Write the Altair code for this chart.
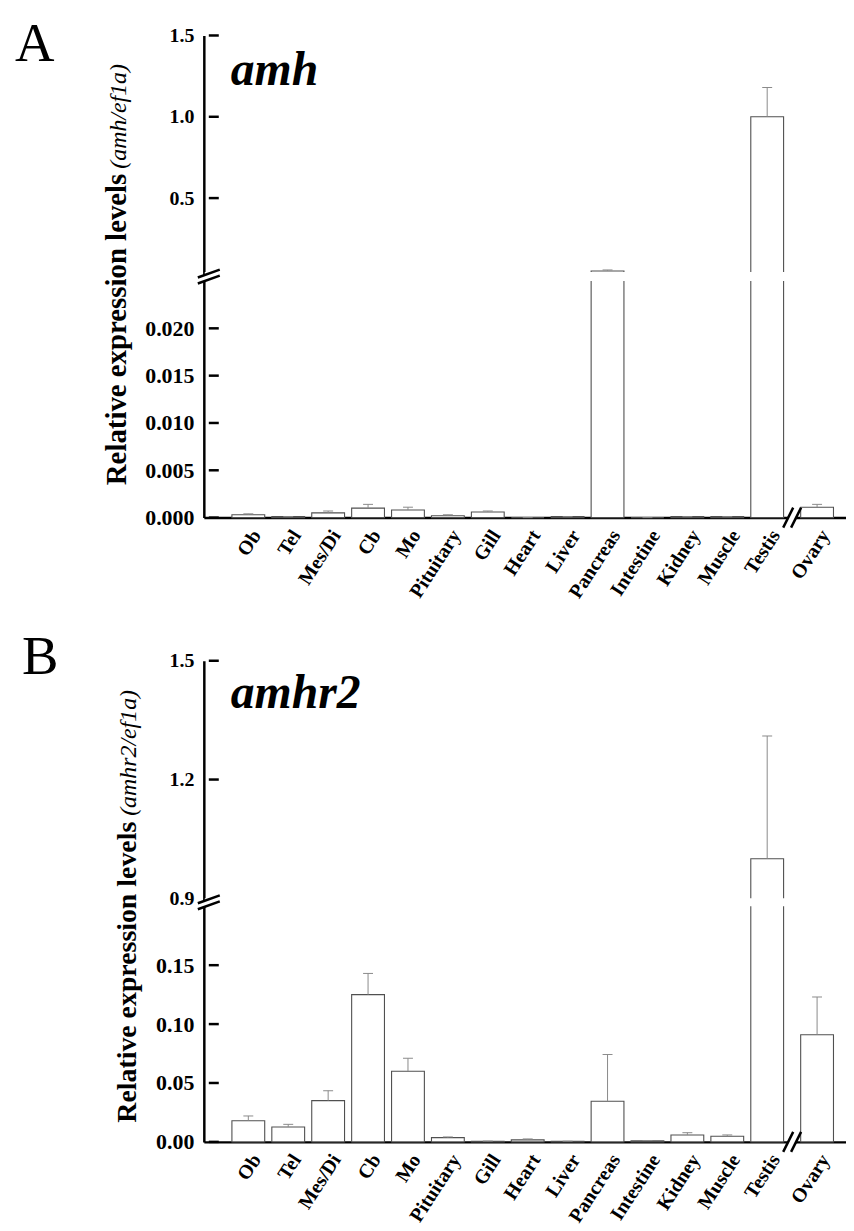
import json
import altair as alt
import pandas as pd

# ---------------- data ----------------
tissues = ["Ob", "Tel", "Mes/Di", "Cb", "Mo", "Pituitary", "Gill", "Heart",
           "Liver", "Pancreas", "Intestine", "Kidney", "Muscle", "Testis", "Ovary"]

amh_mean = [0.0003, 0.0001, 0.0005, 0.0010, 0.0008, 0.0002, 0.0006, 0.0000,
            0.0001, 0.052, 0.0000, 0.0001, 0.0001, 1.00, 0.0011]
amh_err = [0.0001, 0.0000, 0.0002, 0.0004, 0.0003, 0.0001, 0.0001, 0.0000,
           0.0000, 0.006, 0.0000, 0.0000, 0.0000, 0.18, 0.0003]

amhr2_mean = [0.018, 0.0126, 0.035, 0.125, 0.060, 0.0036, 0.0005, 0.0017,
              0.0005, 0.0345, 0.0010, 0.0059, 0.0048, 1.00, 0.091]
amhr2_err = [0.004, 0.0023, 0.0085, 0.018, 0.011, 0.0006, 0.0002, 0.0008,
             0.0001, 0.0397, 0.0002, 0.0019, 0.0011, 0.31, 0.032]

amh_ticks = [0.0, 0.005, 0.010, 0.015, 0.020, 0.5, 1.0, 1.5]
amhr2_ticks = [0.0, 0.05, 0.10, 0.15, 0.9, 1.2, 1.5]

# ---------------- layout helpers ----------------
FONT = "Liberation Serif"
X_MIN, X_MAX = -0.99, 14.85
OVARY_SHIFT = 0.25
positions = [i + (OVARY_SHIFT if t == "Ovary" else 0) for i, t in enumerate(tissues)]
X_BREAK = (positions[-2] + positions[-1]) / 2
TICK_LEN = 0.25
W = 646

YBREAK_LINES = "M-0.92,0.08L0.92,-0.58M-0.92,0.58L0.92,-0.08"
YBREAK_FILL = "M-0.92,0.08L0.92,-0.58L0.92,-0.08L-0.92,0.58Z"
XBREAK_LINES = "M-0.6,0.67L0.07,-0.67M-0.07,0.67L0.6,-0.67"
XBREAK_FILL = "M-0.6,0.67L0.07,-0.67L0.6,-0.67L-0.07,0.67Z"


def build_panel(letter, gene, ratio, means, errs, ydomain, yrange, ticks,
                inner_ticks, lo_fmt, split, cfg):
    h = yrange[0]
    xs = alt.Scale(domain=[X_MIN, X_MAX], nice=False, zero=False)
    ys = alt.Scale(domain=ydomain, range=yrange, nice=False)

    label_expr = json.dumps(tissues) + "[round(datum.value)]"
    x_axis = alt.Axis(values=positions, labelExpr=label_expr, labelAngle=-57,
                      labelAlign="right", labelBaseline="middle", labelOffset=8,
                      labelFont=FONT, labelFontWeight="bold", labelFontSize=20,
                      labelColor="black", ticks=False, tickSize=0,
                      domainColor="black", domainWidth=2.5, grid=False,
                      title=None, labelPadding=14, labelOverlap=False,
                      labelFlush=False)
    y_axis = alt.Axis(values=ticks,
                      labelExpr=f"datum.value > {split} ? format(datum.value, '.1f') : format(datum.value, '{lo_fmt}')",
                      ticks=False, tickSize=0, domainColor="black",
                      domainWidth=2.5, labelFont=FONT, labelFontWeight="bold",
                      labelFontSize={"condition": {"test": f"datum.value > {split}", "value": 20}, "value": 22},
                      labelColor="black", labelPadding=10, title=None,
                      grid=False, labelOverlap=False, labelFlush=False)

    def X(f):
        return alt.X(f, type="quantitative", scale=xs, axis=x_axis)

    def Y(f):
        return alt.Y(f, type="quantitative", scale=ys, axis=y_axis)

    df = pd.DataFrame({"tissue": tissues, "pos": positions, "mean": means,
                       "top": [m + e for m, e in zip(means, errs)]})

    bars = alt.Chart(df).mark_bar(size=33, fill="white", stroke="#505050",
                                  strokeWidth=1.1).encode(x=X("pos"), y=Y("mean"))
    err = alt.Chart(df).mark_rule(color="#8a8a8a", strokeWidth=1).encode(
        x=X("pos"), y=Y("mean"), y2="top")
    cap = alt.Chart(df).mark_tick(orient="horizontal", size=10, thickness=1,
                                  color="#8a8a8a", opacity=1).encode(x=X("pos"), y=Y("top"))

    gap_df = pd.DataFrame({"x0": [X_MIN - 0.1], "x1": [X_MAX],
                           "y0": [ydomain[1]], "y1": [ydomain[2]]})
    gap = alt.Chart(gap_df).mark_rect(fill="white", stroke=None).encode(
        x=X("x0"), x2="x1", y=Y("y0"), y2="y1")

    tick_df = pd.DataFrame({"v": inner_ticks, "x0": X_MIN, "x1": X_MIN + TICK_LEN})
    tk = alt.Chart(tick_df).mark_rule(color="black", strokeWidth=2.5).encode(
        x=X("x0"), x2="x1", y=Y("v"))

    yb_df = pd.DataFrame({"x": [X_MIN], "y": [(ydomain[1] + ydomain[2]) / 2]})
    yb_fill = alt.Chart(yb_df).mark_point(shape=YBREAK_FILL, size=576, filled=True,
                                          fill="white", strokeWidth=0, opacity=1).encode(x=X("x"), y=Y("y"))
    yb_line = alt.Chart(yb_df).mark_point(shape=YBREAK_LINES, size=576, filled=False,
                                          color="black", strokeWidth=2.5, opacity=1).encode(x=X("x"), y=Y("y"))
    xb_df = pd.DataFrame({"x": [X_BREAK], "y": [0.0]})
    xb_fill = alt.Chart(xb_df).mark_point(shape=XBREAK_FILL, size=900, filled=True,
                                          fill="white", strokeWidth=0, opacity=1).encode(x=X("x"), y=Y("y"))
    xb_line = alt.Chart(xb_df).mark_point(shape=XBREAK_LINES, size=900, filled=False,
                                          color="black", strokeWidth=2.5, opacity=1).encode(x=X("x"), y=Y("y"))

    letter_t = alt.Chart(pd.DataFrame({"t": [letter]})).mark_text(
        font=FONT, fontSize=55, align="left", baseline="alphabetic", color="black").encode(
        text="t:N", x=alt.value(cfg["letter_x"]), y=alt.value(cfg["letter_y"]))
    gene_t = alt.Chart(pd.DataFrame({"t": [gene]})).mark_text(
        font=FONT, fontSize=48, fontStyle="italic", fontWeight="bold", align="left",
        baseline="alphabetic", color="black").encode(
        text="t:N", x=alt.value(27), y=alt.value(cfg["gene_y"]))
    title1 = alt.Chart(pd.DataFrame({"t": ["Relative expression levels"]})).mark_text(
        font=FONT, fontSize=cfg["t1_size"], fontWeight="bold", angle=270, align="right",
        baseline="alphabetic", color="black").encode(
        text="t:N", x=alt.value(cfg["title_x"]), y=alt.value(cfg["t1_end"]))
    title2 = alt.Chart(pd.DataFrame({"t": [ratio]})).mark_text(
        font=FONT, fontSize=24, fontStyle="italic", angle=270, align="left",
        baseline="alphabetic", color="black").encode(
        text="t:N", x=alt.value(cfg["title_x"]), y=alt.value(cfg["t2_start"]))

    return alt.layer(bars, err, cap, gap, tk, yb_fill, yb_line, xb_fill, xb_line,
                     letter_t, gene_t, title1, title2).properties(width=W, height=h)


panel_a = build_panel("A", "amh", "(amh/ef1a)", amh_mean, amh_err,
                      [0, 0.025, 0.045, 1.5], [485, 247, 238, 0], amh_ticks,
                      [0.0, 0.005, 0.010, 0.015, 0.020, 0.5, 1.0, 1.5], ".3f", 0.3,
                      {"letter_x": -190, "letter_y": 26, "gene_y": 50, "title_x": -78,
                       "t1_size": 29, "t1_end": 139, "t2_start": 134})
panel_b = build_panel("B", "amhr2", "(amhr2/ef1a)", amhr2_mean, amhr2_err,
                      [0, 0.2, 0.9, 1.5], [484, 247, 239, 0], amhr2_ticks,
                      [0.0, 0.05, 0.10, 0.15, 1.2, 1.5], ".2f", 0.5,
                      {"letter_x": -183, "letter_y": 13, "gene_y": 48, "title_x": -68,
                       "t1_size": 28, "t1_end": 162, "t2_start": 156})

chart = alt.vconcat(panel_a, panel_b, spacing=144, bounds="flush").properties(
    padding={"left": 7, "top": 6, "right": 0, "bottom": 0}
).configure_view(stroke=None)

chart.save("out.html", embed_options={"renderer": "svg", "actions": False})
